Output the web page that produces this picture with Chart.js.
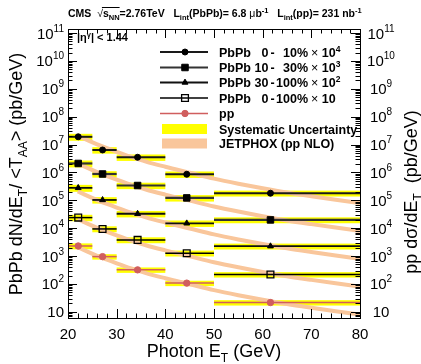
<!DOCTYPE html>
<html>
<head>
<meta charset="utf-8">
<script src="https://cdn.jsdelivr.net/npm/chart.js@4.4.1/dist/chart.umd.min.js"></script>
<style>
  html, body { margin: 0; padding: 0; background: #fff; }
  #wrap { position: relative; width: 421px; height: 364px; }
</style>
</head>
<body>
<div id="wrap"><canvas id="c" width="421" height="364"></canvas></div>
<script>
// ── data ──
const binLo = [20, 25, 30, 40, 50];
const binHi = [25, 30, 40, 50, 80];
const ptX   = [22.1, 27.1, 34.3, 44.4, 61.6];

const pbpb010   = [1.9e7, 6.4e6, 3.5e6, 8.6e5, 1.8e5];   // x 1e4
const pbpb1030  = [2.1e6, 8.8e5, 3.4e5, 1.22e5, 1.98e4]; // x 1e3
const pbpb30100 = [2.8e5, 1.03e5, 3.3e4, 1.5e4, 2.26e3]; // x 1e2
const pbpb0100  = [2.4e4, 9.4e3, 3.8e3, 1.27e3, 217];    // x 10
const ppVals    = [2.3e3, 955, 320, 107, 21.5];

// relative systematic uncertainty (yellow boxes)
const sys010   = [0.28, 0.26, 0.26, 0.26, 0.24];
const sys1030  = [0.28, 0.26, 0.26, 0.26, 0.24];
const sys30100 = [0.28, 0.26, 0.26, 0.26, 0.24];
const sys0100  = [0.26, 0.24, 0.24, 0.24, 0.22];
const sysPP    = [0.24, 0.22, 0.22, 0.22, 0.22];

// JETPHOX pp NLO curve
const jetX  = [22, 24, 26, 28, 30, 33, 36, 40, 45, 50, 55, 60, 65, 70, 75, 80];
const jetPP = [2100, 1450, 1020, 740, 550, 360, 245, 160, 98, 60, 39.5, 27, 19, 14, 10.5, 8];
const scaleFactors = [1e4, 1e3, 1e2, 10, 1];

// legend texts
const seriesName = ['PbPb', 'PbPb', 'PbPb', 'PbPb', 'pp'];
const centLo = ['0', '10', '30', '0'];
const centHi = ['10%', '30%', '100%', '100%'];
const scaleExp = ['4', '3', '2', ''];

const xTicks = [20, 30, 40, 50, 60, 70, 80];
const yPowers = [1, 2, 3, 4, 5, 6, 7, 8, 9, 10, 11];

const series = [pbpb010, pbpb1030, pbpb30100, pbpb0100, ppVals];
const sysRel = [sys010, sys1030, sys30100, sys0100, sysPP];

const FONT = '"Liberation Sans", Arial, Helvetica, sans-serif';
const RED = '#d05e5e';
const PEACH = '#f9c69b';
const YELLOW = '#ffff00';

const markerStyle = [
  { pointStyle: 'circle',   radius: 3,   fill: '#000', stroke: '#000', bw: 1 },
  { pointStyle: 'rect',     radius: 4.6, fill: '#000', stroke: '#000', bw: 1 },
  { pointStyle: 'triangle', radius: 3.4, fill: '#000', stroke: '#000', bw: 1 },
  { pointStyle: 'rect',     radius: 4.8, fill: 'rgba(0,0,0,0)', stroke: '#000', bw: 1.3 },
  { pointStyle: 'circle',   radius: 3.2, fill: RED,  stroke: RED,  bw: 1 }
];
const barStyle = [
  { c: '#1a1a1a', w: 2 }, { c: '#333', w: 2.2 }, { c: '#111', w: 1.8 },
  { c: '#000', w: 1.5 }, { c: RED, w: 1.5 }
];

function fnt(s, b) { return (b ? 'bold ' : '') + s + 'px ' + FONT; }
function T(t, s, b, dy) { return { t, s, b, dy }; }

function drawRich(ctx, segs, x, y, align) {
  let w = 0;
  for (const g of segs) { ctx.font = fnt(g.s, g.b); w += ctx.measureText(g.t).width; }
  let cx = align === 'right' ? x - w : align === 'center' ? x - w / 2 : x;
  ctx.textAlign = 'left';
  ctx.textBaseline = 'alphabetic';
  for (const g of segs) {
    ctx.font = fnt(g.s, g.b);
    const gw = ctx.measureText(g.t).width;
    ctx.fillText(g.t, cx, y + (g.dy || 0));
    if (g.over) {
      ctx.beginPath();
      ctx.lineWidth = 1;
      ctx.moveTo(cx - 1, y - g.over + 0.5);
      ctx.lineTo(cx + gw, y - g.over + 0.5);
      ctx.stroke();
    }
    cx += gw;
  }
  return w;
}

function drawMarker(ctx, i, x, y) {
  const m = markerStyle[i];
  ctx.save();
  ctx.fillStyle = m.fill;
  ctx.strokeStyle = m.stroke;
  ctx.lineWidth = m.bw;
  Chart.helpers.drawPoint(ctx, { pointStyle: m.pointStyle, radius: m.radius, rotation: 0, borderWidth: m.bw }, x, y);
  ctx.restore();
}

// yellow boxes under everything
const bandsPlugin = {
  id: 'bands',
  beforeDatasetsDraw(chart) {
    const { ctx, scales: { x, y } } = chart;
    ctx.save();
    ctx.fillStyle = YELLOW;
    series.forEach((vals, s) => {
      vals.forEach((v, i) => {
        const x0 = x.getPixelForValue(binLo[i]), x1 = x.getPixelForValue(binHi[i]);
        const y0 = y.getPixelForValue(v * (1 + sysRel[s][i]));
        const y1 = y.getPixelForValue(v * (1 - sysRel[s][i]));
        ctx.fillRect(x0, y0, x1 - x0, y1 - y0);
      });
    });
    ctx.restore();
  },
  // horizontal bin bars: after the curves, before the markers
  afterDatasetDraw(chart, args) {
    if (args.index !== 5) return;
    const { ctx, scales: { x, y } } = chart;
    ctx.save();
    series.forEach((vals, s) => {
      ctx.strokeStyle = barStyle[s].c;
      ctx.lineWidth = barStyle[s].w;
      vals.forEach((v, i) => {
        const yy = y.getPixelForValue(v);
        ctx.beginPath();
        ctx.moveTo(x.getPixelForValue(binLo[i]), yy);
        ctx.lineTo(x.getPixelForValue(binHi[i]), yy);
        ctx.stroke();
      });
    });
    ctx.restore();
  }
};

// frame, ROOT-style ticks, labels, legend and titles
const decorPlugin = {
  id: 'decor',
  afterDraw(chart) {
    const { ctx, chartArea: a, scales: { x, y } } = chart;
    ctx.save();
    ctx.strokeStyle = '#000';
    ctx.fillStyle = '#000';
    ctx.lineWidth = 1;
    ctx.strokeRect(a.left + 0.5, a.top + 0.5, a.right - a.left, a.bottom - a.top);

    ctx.beginPath();
    for (let v = 20; v <= 80; v += 2) {
      const px = Math.round(x.getPixelForValue(v)) + 0.5;
      const len = v % 10 === 0 ? 9 : 4.5;
      ctx.moveTo(px, a.bottom); ctx.lineTo(px, a.bottom - len);
      ctx.moveTo(px, a.top); ctx.lineTo(px, a.top + len);
    }
    for (let p = 0; p <= 11; p++) {
      for (let m = 1; m <= 9; m++) {
        const v = m * Math.pow(10, p);
        if (v < y.min || v > y.max) continue;
        const py = Math.round(y.getPixelForValue(v)) + 0.5;
        const len = m === 1 ? 9 : 4.5;
        ctx.moveTo(a.left, py); ctx.lineTo(a.left + len, py);
        ctx.moveTo(a.right, py); ctx.lineTo(a.right - len, py);
      }
    }
    ctx.stroke();

    // tick labels
    xTicks.forEach(v => {
      drawRich(ctx, [T(String(v), 15, 0)], x.getPixelForValue(v), 338.5, 'center');
    });
    yPowers.forEach(p => {
      const py = y.getPixelForValue(Math.pow(10, p)) + 5.5;
      const segs = p === 1 ? [T('10', 15, 0)] : [T('10', 15, 0), T(String(p), 10, 0, -7)];
      drawRich(ctx, segs, 64, py, 'right');
      drawRich(ctx, segs, 381, py, 'center');
    });

    // axis titles
    drawRich(ctx, [T('Photon E', 18, 0), T('T', 12, 0, 5), T(' (GeV)', 18, 0)], 214, 357, 'center');
    ctx.save();
    ctx.translate(22, 174);
    ctx.rotate(-Math.PI / 2);
    drawRich(ctx, [T('PbPb dN/dE', 18, 0), T('T', 12, 0, 5), T('/ <T', 18, 0), T('AA', 12, 0, 5), T('> (pb/GeV)', 18, 0)], 0, 0, 'center');
    ctx.restore();
    ctx.save();
    ctx.translate(417, 192);
    ctx.rotate(-Math.PI / 2);
    drawRich(ctx, [T('pp d\u03c3/dE', 18, 0), T('T', 12, 0, 5), T('  (pb/GeV)', 18, 0)], 0, 0, 'center');
    ctx.restore();

    // top title
    const sub = 2.5, sup = -4.5;
    drawRich(ctx, [
      T('CMS  ', 10.5, 1), T('\u221a', 10.5, 0),
      { t: 's', s: 10.5, b: 1, over: 10 }, { t: 'NN', s: 7.5, b: 1, dy: sub, over: 10 },
      T('=2.76TeV   L', 10.5, 1), T('int', 7.5, 1, sub), T('(PbPb)= 6.8 ', 10.5, 1),
      T('\u03bc', 10.5, 0), T('b', 10.5, 1), T('-1', 7.5, 1, sup),
      T('   L', 10.5, 1), T('int', 7.5, 1, sub), T('(pp)= 231 nb', 10.5, 1), T('-1', 7.5, 1, sup)
    ], 68, 17, 'left');

    // |eta| label
    drawRich(ctx, [T('|\u03b7', 11, 1), T('\u03b3', 7.5, 1, -4), T('| < 1.44', 11, 1)], 77, 41, 'left');

    // legend
    const rowY = [52, 67.5, 82.5, 98, 113.5, 129, 143.5];
    for (let s = 0; s < 5; s++) {
      const ry = rowY[s];
      ctx.strokeStyle = barStyle[s].c;
      ctx.lineWidth = barStyle[s].w;
      ctx.beginPath(); ctx.moveTo(160, ry); ctx.lineTo(208, ry); ctx.stroke();
      drawMarker(ctx, s, 185, ry);
      ctx.fillStyle = '#000';
      const by = ry + 4.5;
      drawRich(ctx, [T(seriesName[s], 12.5, 1)], 219, by, 'left');
      if (s < 4) {
        drawRich(ctx, [T(centLo[s], 12.5, 1)], 268.5, by, 'right');
        drawRich(ctx, [T('-', 12.5, 1)], 270.5, by, 'left');
        drawRich(ctx, [T(centHi[s], 12.5, 1)], 308, by, 'right');
        const segs = [T('\u00d7 ', 12.5, 0), T('10', 12.5, 1)];
        if (scaleExp[s]) segs.push(T(scaleExp[s], 8.5, 1, -5));
        drawRich(ctx, segs, 311, by, 'left');
      }
    }
    ctx.fillStyle = YELLOW;
    ctx.fillRect(162, rowY[5] - 5, 45, 10);
    ctx.fillStyle = PEACH;
    ctx.fillRect(162, rowY[6] - 5, 45, 10);
    ctx.fillStyle = '#000';
    drawRich(ctx, [T('Systematic Uncertainty', 12.5, 1)], 219, rowY[5] + 4.5, 'left');
    drawRich(ctx, [T('JETPHOX (pp NLO)', 12.5, 1)], 219, rowY[6] + 4.5, 'left');
    ctx.restore();
  }
};

const markerSets = series.map((vals, s) => ({
  data: vals.map((v, i) => ({ x: ptX[i], y: v })),
  showLine: false,
  pointStyle: markerStyle[s].pointStyle,
  pointRadius: markerStyle[s].radius,
  pointBackgroundColor: markerStyle[s].fill,
  pointBorderColor: markerStyle[s].stroke,
  pointBorderWidth: markerStyle[s].bw,
  pointHoverRadius: markerStyle[s].radius
}));

const curveSets = scaleFactors.map(f => ({
  data: jetX.map((xv, i) => ({ x: xv, y: jetPP[i] * f })),
  showLine: true,
  borderColor: PEACH,
  borderWidth: 4,
  pointRadius: 0,
  pointHoverRadius: 0,
  cubicInterpolationMode: 'monotone',
  fill: false
}));

new Chart(document.getElementById('c'), {
  type: 'scatter',
  data: { datasets: [...markerSets, ...curveSets] },
  options: {
    responsive: false,
    animation: false,
    devicePixelRatio: 1,
    layout: { padding: { left: 68, top: 29, right: 61, bottom: 46 } },
    plugins: { legend: { display: false }, tooltip: { enabled: false } },
    scales: {
      x: { type: 'linear', min: 20, max: 80, display: false },
      y: { type: 'logarithmic', min: 6, max: 1.4e11, display: false }
    }
  },
  plugins: [bandsPlugin, decorPlugin]
});
</script>
</body>
</html>
